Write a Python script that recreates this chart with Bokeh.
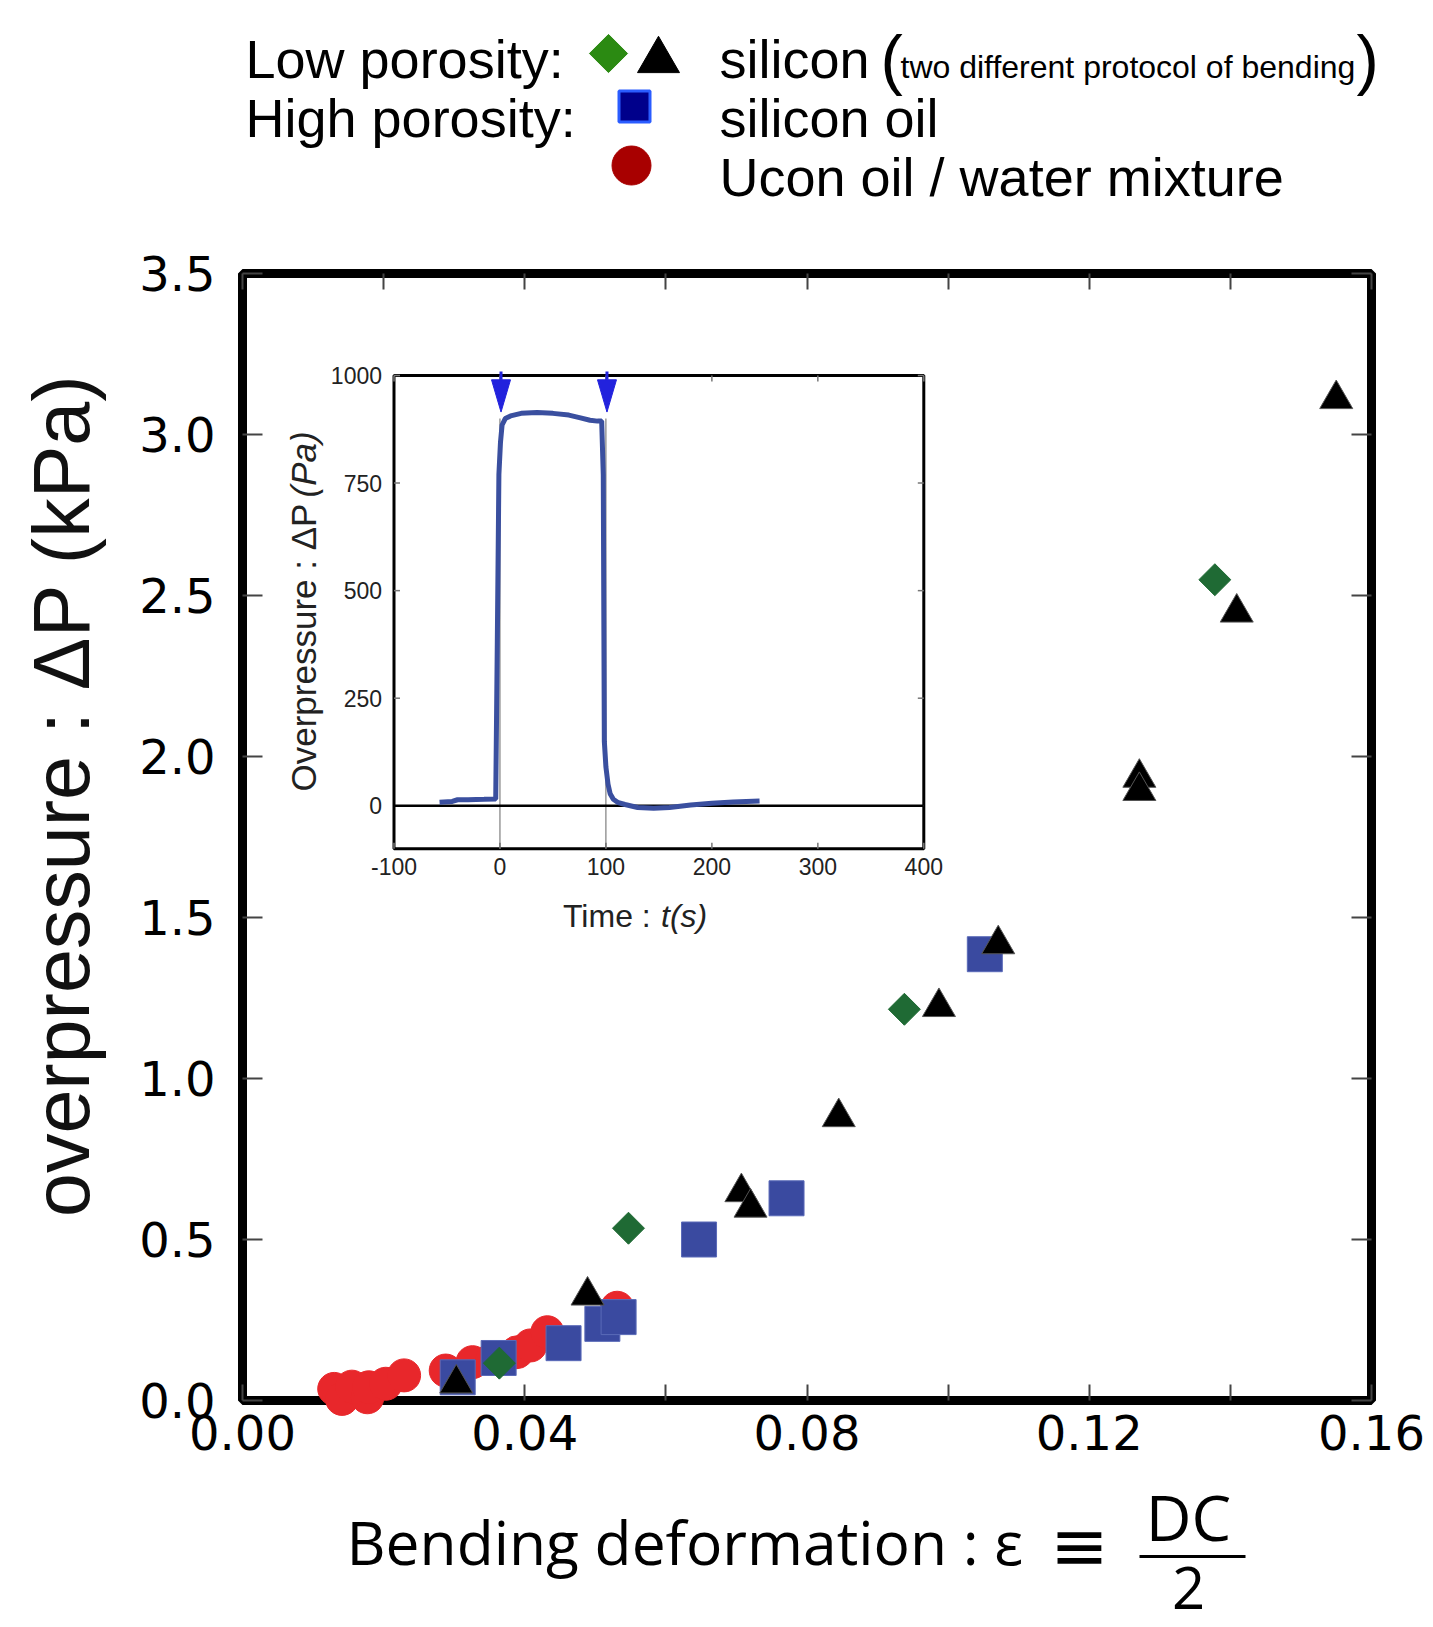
import math
from bokeh.plotting import figure
from bokeh.layouts import column
from bokeh.models import Range1d, LinearAxis, FixedTicker, PrintfTickFormatter
from bokeh.embed import file_html
from bokeh.resources import INLINE
from bokeh.core.properties import value

# ---------------- data ----------------
# Low porosity silicon, first bending protocol (green diamonds)
diamond_eps = [0.0364, 0.0547, 0.0938, 0.1378]
diamond_dp = [0.116, 0.535, 1.215, 2.549]
# Low porosity silicon, second bending protocol (black triangles)
triangle_eps = [0.0303, 0.0489, 0.0707, 0.0720, 0.0845, 0.0987, 0.1071, 0.1271, 0.1271, 0.1409, 0.1550]
triangle_dp = [0.053, 0.326, 0.647, 0.599, 0.880, 1.222, 1.417, 1.934, 1.893, 2.447, 3.110]
# High porosity, silicon oil (blue squares)
square_eps = [0.0305, 0.0363, 0.0455, 0.0510, 0.0533, 0.0647, 0.0771, 0.1052]
square_dp = [0.072, 0.132, 0.178, 0.238, 0.259, 0.500, 0.628, 1.386]
# High porosity, Ucon oil / water mixture (red circles)
circle_eps = [0.0130, 0.0141, 0.0155, 0.0177, 0.0179, 0.0203, 0.0229, 0.0288, 0.0326,
              0.0354, 0.0389, 0.0408, 0.0432, 0.0531]
circle_dp = [0.036, 0.005, 0.043, 0.010, 0.041, 0.052, 0.078, 0.093, 0.119,
             0.129, 0.150, 0.171, 0.212, 0.288]

# Inset: overpressure vs time
inset_t = [-57, -45, -40, -30, -15, -4, -2.5, -1, 0.5, 2, 5, 10, 20, 35, 50, 65, 75, 85, 92, 96,
           97.5, 98.5, 100, 102, 104, 107, 111, 118, 130, 145, 160, 180, 200, 220, 245]
inset_p = [8, 10, 14, 14, 15, 16, 380, 770, 845, 885, 900, 906, 912, 914, 912, 908, 902, 896, 894, 894,
           770, 150, 90, 50, 28, 15, 8, 3, -4, -6, -4, 2, 6, 9, 11]
event_t = [0, 100]
arrow_t = [1, 101]

x_ticks = [0.00, 0.04, 0.08, 0.12, 0.16]
x_minor = [0.02, 0.06, 0.10, 0.14]
y_ticks = [0.0, 0.5, 1.0, 1.5, 2.0, 2.5, 3.0, 3.5]
inset_x_ticks = [-100, 0, 100, 200, 300, 400]
inset_x_labels = ["-100", "0", "100", "200", "300", "400"]
inset_y_ticks = [0, 250, 500, 750, 1000]
inset_y_labels = ["0", "250", "500", "750", "1000"]

# ---------------- layout (page pixels) ----------------
W, H = 1425, 1626
LH = 225                       # height of the legend strip on top
FL, FR, FT, FB = 242, 1371, 273, 1400
IL, IR, IT, IB = 393.5, 923.3, 375.0, 848.3
ix0, ix1, iy0, iy1 = -100, 400, -100, 1000
sx = (IR - IL) / (ix1 - ix0)
sy = (IB - IT) / (iy1 - iy0)

SHIFT = {"Liberation Sans": 0.42, "Open Sans": 0.46, "DejaVu Sans": 0.42}


def txt(fig, x, y, s, size, font="Liberation Sans", align="left", style="normal",
        vertical=False, color="black", xr="px", yr="px", level="overlay"):
    """x, y give the text baseline position in page pixels."""
    d = SHIFT[font] * size
    if vertical:
        x, angle = x - d, math.pi / 2
    else:
        y, angle = y - d, 0.0
    kw = {}
    if xr:
        kw["x_range_name"] = xr
    if yr:
        kw["y_range_name"] = yr
    fig.text(x=[x], y=[y], text=[s], level=level, text_font=value(font),
             text_font_size=f"{size}px", text_align=align, text_baseline="alphabetic",
             text_font_style=style, angle=angle, text_color=color, **kw)


# ---------------- legend strip ----------------
lg = figure(frame_width=FR - FL, frame_height=LH, x_range=Range1d(FL, FR), y_range=Range1d(LH, 0),
            output_backend="svg", toolbar_location=None,
            min_border_left=FL, min_border_right=W - FR, min_border_top=0, min_border_bottom=0,
            x_axis_location=None, y_axis_location=None,
            background_fill_color="white", border_fill_color="white")
lg.grid.visible = False
lg.outline_line_color = None
lg.scatter([608], [53], marker="square", angle=math.pi / 4, size=27, fill_color="#2b8a12",
           line_color="#2b8a12")
lg.scatter([658], [60], marker="triangle", size=42, fill_color="black", line_color="black")
lg.scatter([634], [106], marker="square", size=31, fill_color="#00008b", line_color="#2a5cff",
           line_width=3)
lg.scatter([631], [165], marker="circle", size=39, fill_color="#a80000", line_color="#a80000")
txt(lg, 245, 81, "Low porosity:", 54, xr=None, yr=None)
txt(lg, 245, 140, "High porosity:", 54, xr=None, yr=None)
txt(lg, 719, 81, "silicon", 54, xr=None, yr=None)
txt(lg, 880, 86, "(", 67, xr=None, yr=None)
txt(lg, 900, 80, "two different protocol of bending", 32, xr=None, yr=None)
txt(lg, 1356, 86, ")", 67, xr=None, yr=None)
txt(lg, 719, 140, "silicon oil", 54, xr=None, yr=None)
txt(lg, 719, 199, "Ucon oil / water mixture", 54, xr=None, yr=None)

# ---------------- main figure ----------------
p_main = figure(frame_width=FR - FL, frame_height=FB - FT,
                x_range=Range1d(0, 0.16), y_range=Range1d(0, 3.5),
                output_backend="svg", toolbar_location=None,
                min_border_left=FL, min_border_right=W - FR,
                min_border_top=FT - LH, min_border_bottom=H - FB,
                background_fill_color="white", border_fill_color="white")
p_main.grid.visible = False
p_main.outline_line_color = "black"
p_main.outline_line_width = 9

p_main.extra_x_ranges = {"px": Range1d(FL, FR),
                         "inx": Range1d(ix0 - (IL - FL) / sx, ix1 + (FR - IR) / sx)}
p_main.extra_y_ranges = {"px": Range1d(FB, FT),
                         "iny": Range1d(iy0 - (FB - IB) / sy, iy1 + (IT - FT) / sy)}

TICK_C = "#444444"
xa = p_main.xaxis[0]
xa.ticker = FixedTicker(ticks=x_ticks, minor_ticks=x_minor)
xa.formatter = PrintfTickFormatter(format="%.2f")
ya = p_main.yaxis[0]
ya.ticker = FixedTicker(ticks=y_ticks, minor_ticks=[])
ya.formatter = PrintfTickFormatter(format="%.1f")
for ax, tin in ((xa, 16), (ya, 20)):
    ax.axis_line_color = None
    ax.major_tick_in = tin
    ax.major_tick_out = 0
    ax.minor_tick_in = tin
    ax.minor_tick_out = 0
    ax.major_tick_line_color = TICK_C
    ax.minor_tick_line_color = TICK_C
    ax.major_tick_line_width = 2
    ax.minor_tick_line_width = 2
    ax.major_label_text_font = "DejaVu Sans"
    ax.major_label_text_font_size = "48px"
    ax.major_label_text_font_style = "normal"
    ax.major_label_text_color = "black"
xa.major_label_standoff = 14
ya.major_label_standoff = 27

top_ax = LinearAxis(ticker=FixedTicker(ticks=[], minor_ticks=x_ticks + x_minor),
                    axis_line_color=None, major_tick_line_color=None,
                    minor_tick_in=16, minor_tick_out=0,
                    minor_tick_line_color=TICK_C, minor_tick_line_width=2)
p_main.add_layout(top_ax, "above")
right_ax = LinearAxis(ticker=FixedTicker(ticks=[], minor_ticks=y_ticks),
                      axis_line_color=None, major_tick_line_color=None,
                      minor_tick_in=20, minor_tick_out=0,
                      minor_tick_line_color=TICK_C, minor_tick_line_width=2)
p_main.add_layout(right_ax, "right")

# ---------------- inset ----------------
IN = dict(x_range_name="inx", y_range_name="iny")
p_main.quad(left=[ix0], right=[ix1], bottom=[iy0], top=[iy1], fill_color="white",
            line_color="black", line_width=3, **IN)
tx = 6 / sx
ty = 6 / sy
nx, ny = len(inset_x_ticks), len(inset_y_ticks)
p_main.segment(x0=inset_x_ticks, y0=[iy0] * nx, x1=inset_x_ticks, y1=[iy0 + ty] * nx,
               line_color="#777777", line_width=1.5, **IN)
p_main.segment(x0=inset_x_ticks, y0=[iy1] * nx, x1=inset_x_ticks, y1=[iy1 - ty] * nx,
               line_color="#777777", line_width=1.5, **IN)
p_main.segment(x0=[ix0] * ny, y0=inset_y_ticks, x1=[ix0 + tx] * ny, y1=inset_y_ticks,
               line_color="#777777", line_width=1.5, **IN)
p_main.segment(x0=[ix1] * ny, y0=inset_y_ticks, x1=[ix1 - tx] * ny, y1=inset_y_ticks,
               line_color="#777777", line_width=1.5, **IN)
p_main.segment(x0=event_t, y0=[iy0, iy0], x1=event_t, y1=[900, 900],
               line_color="#666666", line_width=1, **IN)
p_main.segment(x0=[ix0], y0=[0], x1=[ix1], y1=[0], line_color="black", line_width=2.5, **IN)
p_main.line(inset_t, inset_p, line_color="#3a4f9f", line_width=5, **IN)
ARROW_C = "#2222dd"
hw = 9.5 / sx
p_main.segment(x0=arrow_t, y0=[iy1 + 4 / sy] * 2, x1=arrow_t, y1=[990, 990],
               line_color=ARROW_C, line_width=3, **IN)
p_main.patches(xs=[[a - hw, a + hw, a] for a in arrow_t],
               ys=[[990, 990, 915] for a in arrow_t],
               fill_color=ARROW_C, line_color=ARROW_C, **IN)
for t, lab in zip(inset_x_ticks, inset_x_labels):
    p_main.text(x=[t], y=[iy0 - 9 / sy], text=[lab], text_font=value("Liberation Sans"),
                text_font_size="23px", text_align="center", text_baseline="top",
                text_color="#222222", **IN)
for v, lab in zip(inset_y_ticks, inset_y_labels):
    p_main.text(x=[ix0 - 12 / sx], y=[v], text=[lab], text_font=value("Liberation Sans"),
                text_font_size="23px", text_align="right", text_baseline="middle",
                text_color="#222222", **IN)
txt(p_main, 317.5, 791, "Overpressure : \u0394P ", 35, vertical=True, color="#222222")
txt(p_main, 317.5, 497, "(Pa)", 35, vertical=True, style="italic", color="#222222")
txt(p_main, 562.5, 929, "Time : ", 32, color="#222222")
txt(p_main, 660.5, 929, "t(s)", 32, style="italic", color="#222222")

# ---------------- main data ----------------
p_main.scatter(circle_eps, circle_dp, marker="circle", size=33, fill_color="#e8272b",
               line_color="#e8272b", level="overlay")
p_main.scatter(square_eps, square_dp, marker="square", size=35, fill_color="#3a4aa0",
               line_color="#5a6ab8", line_width=1, level="overlay")
p_main.scatter(diamond_eps, diamond_dp, marker="square", angle=math.pi / 4, size=22.6,
               fill_color="#1f6a34", line_color="#1f6a34", level="overlay")
p_main.scatter(triangle_eps, triangle_dp, marker="triangle", size=33, fill_color="black",
               line_color="#555555", line_width=1, level="overlay")

# ---------------- axis titles ----------------
txt(p_main, 94, 795, "overpressure : \u0394P (kPa)", 79, align="center", vertical=True,
    color="#111111")
txt(p_main, 346, 1569, "Bending deformation : \u03b5", 60.5, font="Open Sans")
txt(p_main, 1079, 1575, "\u2261", 70, font="DejaVu Sans", align="center")
txt(p_main, 1188, 1545, "DC", 63, font="Open Sans", align="center")
p_main.segment(x0=[1139], y0=[1556], x1=[1245], y1=[1556], x_range_name="px", y_range_name="px",
               line_color="black", line_width=3, level="overlay")
txt(p_main, 1188, 1614, "2", 58, font="Open Sans", align="center")

p = column(lg, p_main, spacing=0)
open("out.html", "w").write(file_html(p, INLINE))
